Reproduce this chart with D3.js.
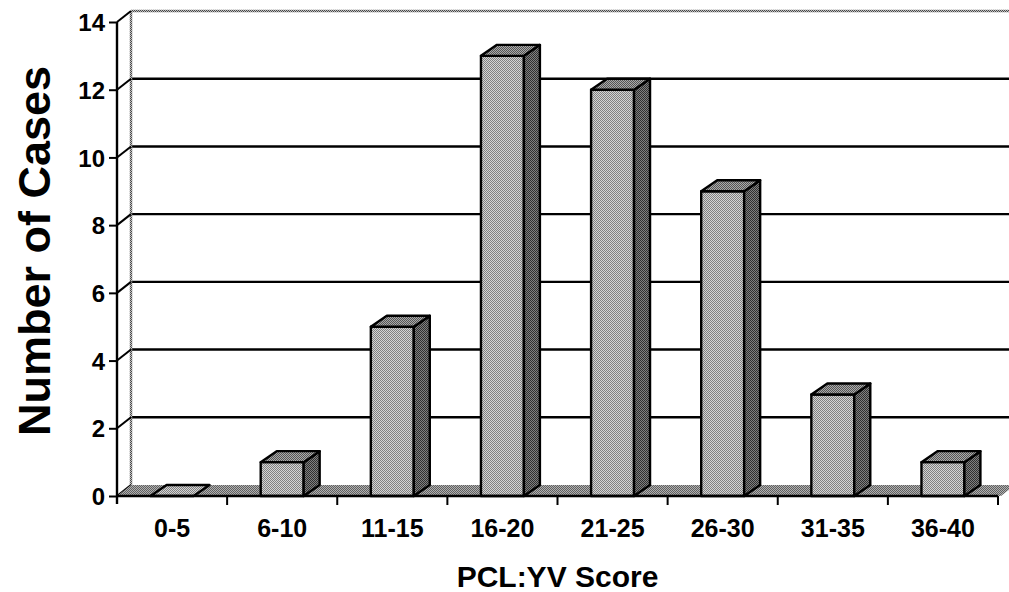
<!DOCTYPE html>
<html>
<head>
<meta charset="utf-8">
<script src="https://cdn.jsdelivr.net/npm/d3@7"></script>
<style>
  html, body { margin: 0; padding: 0; background: #fff; }
  svg { display: block; }
  text { font-family: "Liberation Sans", Arial, sans-serif; font-weight: bold; fill: #000; }
</style>
</head>
<body>
<svg id="chart" width="1009" height="592"></svg>
<script>
// Score bands and number of cases in each band
const categories = ["0-5", "6-10", "11-15", "16-20", "21-25", "26-30", "31-35", "36-40"];
const cases = [0, 1, 5, 13, 12, 9, 3, 1];
const yTicks = [0, 2, 4, 6, 8, 10, 12, 14];
const xTitle = "PCL:YV Score";
const yTitle = "Number of Cases";

const svg = d3.select("#chart");

// front plane of the plot and the depth offset of the 3-D box
const front = { left: 117, right: 998, top: 22, bottom: 496 };
const wall = { dx: 14, dy: -11 };
const barDepth = { dx: 16, dy: -11 };

const x = d3.scaleBand().domain(categories).range([front.left, front.right]).paddingInner(0).paddingOuter(0);
const y = d3.scaleLinear().domain([0, 14]).range([front.bottom, front.top]);
const barW = x.bandwidth() * 0.39;

// dithered fills
const defs = svg.append("defs");
function dither(id, a, b) {
  const p = defs.append("pattern").attr("id", id).attr("width", 2).attr("height", 2)
    .attr("patternUnits", "userSpaceOnUse");
  p.append("rect").attr("width", 2).attr("height", 2).attr("fill", a);
  p.append("rect").attr("width", 1).attr("height", 1).attr("fill", b);
  p.append("rect").attr("x", 1).attr("y", 1).attr("width", 1).attr("height", 1).attr("fill", b);
}
dither("faceFront", "#d4d4d4", "#808080");
dither("faceSide", "#808080", "#303030");
dither("faceTop", "#aaaaaa", "#555555");
dither("floorFill", "#b0b0b0", "#606060");
dither("wallLine", "#c0c0c0", "#4a4a4a");

const g = svg.append("g");

// back wall gridlines
const backX0 = front.left + wall.dx, backX1 = front.right + wall.dx;
yTicks.filter(v => v > 0 && v < 14).forEach(v => {
  g.append("line")
    .attr("x1", backX0).attr("x2", backX1)
    .attr("y1", y(v) + wall.dy).attr("y2", y(v) + wall.dy)
    .attr("stroke", "#000").attr("stroke-width", 2.4);
});
// top edge of the back wall
g.append("line")
  .attr("x1", backX0).attr("x2", backX1)
  .attr("y1", y(14) + wall.dy).attr("y2", y(14) + wall.dy)
  .attr("stroke", "url(#wallLine)").attr("stroke-width", 2.5);
// left edge of the back wall
g.append("line")
  .attr("x1", backX0).attr("x2", backX0)
  .attr("y1", y(14) + wall.dy).attr("y2", y(0) + wall.dy)
  .attr("stroke", "url(#wallLine)").attr("stroke-width", 2.5);

// side-wall connectors from axis ticks to the back wall
yTicks.forEach(v => {
  g.append("line")
    .attr("x1", front.left).attr("y1", y(v))
    .attr("x2", backX0).attr("y2", y(v) + wall.dy)
    .attr("stroke", "#000").attr("stroke-width", 2);
});

// floor
const floorPts = [
  [front.left, y(0)], [front.right + 3, y(0)],
  [front.right + 3 + wall.dx, y(0) + wall.dy], [backX0, y(0) + wall.dy]
];
g.append("path")
  .attr("d", d3.line()(floorPts) + "Z")
  .attr("fill", "url(#floorFill)");

// columns
const bars = g.selectAll("g.bar").data(categories.map((c, i) => ({ c, v: cases[i] })))
  .join("g").attr("class", "bar");

bars.each(function(d) {
  const sel = d3.select(this);
  const cx = x(d.c) + x.bandwidth() / 2;
  const x0 = cx - barW / 2, x1 = cx + barW / 2;
  const yb = y(0), yt = y(d.v);
  const dx = barDepth.dx, dy = barDepth.dy;
  const face = (pts, fill) => sel.append("path")
    .attr("d", d3.line()(pts) + "Z").attr("fill", fill)
    .attr("stroke", "#000").attr("stroke-width", 2.4).attr("stroke-linejoin", "round");
  if (d.v > 0) {
    face([[x0, yb], [x1, yb], [x1, yt], [x0, yt]], "url(#faceFront)");
    face([[x1, yb], [x1 + dx, yb + dy], [x1 + dx, yt + dy], [x1, yt]], "url(#faceSide)");
    face([[x0, yt], [x1, yt], [x1 + dx, yt + dy], [x0 + dx, yt + dy]], "url(#faceTop)");
  } else {
    face([[x0, yt], [x1, yt], [x1 + dx, yt + dy], [x0 + dx, yt + dy]], "url(#faceFront)");
  }
});

// y axis
const yAxis = d3.axisLeft(y).tickValues(yTicks).tickSize(8).tickPadding(4).tickFormat(d3.format("d"));
const yg = svg.append("g").attr("transform", `translate(${front.left},0)`).call(yAxis);
yg.select(".domain").attr("stroke", "#000").attr("stroke-width", 2.4).attr("d", `M0,${front.top}V${front.bottom + 8}`);
yg.selectAll(".tick line").attr("stroke", "#000").attr("stroke-width", 2);
yg.selectAll(".tick text").attr("font-size", 24).attr("font-family", null).attr("dy", "0.36em");

// x axis
const xAxis = d3.axisBottom(x).tickSize(0).tickPadding(0);
const xg = svg.append("g").attr("transform", `translate(0,${front.bottom})`).call(xAxis);
xg.select(".domain").attr("stroke", "#000").attr("stroke-width", 2.4).attr("d", `M${front.left},0H${front.right}`);
xg.selectAll(".tick text").attr("font-size", 25).attr("font-family", null).attr("y", 41).attr("dy", 0);
// tick marks at the band boundaries
const bounds = categories.slice(1).map(c => x(c)).concat([front.right]);
xg.selectAll("line.bound").data(bounds).join("line").attr("class", "bound")
  .attr("x1", d => d).attr("x2", d => d).attr("y1", 0).attr("y2", 9)
  .attr("stroke", "#000").attr("stroke-width", 2);

// axis titles
svg.append("text")
  .attr("x", (front.left + front.right) / 2).attr("y", 587)
  .attr("text-anchor", "middle").attr("font-size", 30)
  .text(xTitle);
svg.append("text")
  .attr("transform", `translate(50,251) rotate(-90)`)
  .attr("text-anchor", "middle").attr("font-size", 45)
  .text(yTitle);
</script>
</body>
</html>
